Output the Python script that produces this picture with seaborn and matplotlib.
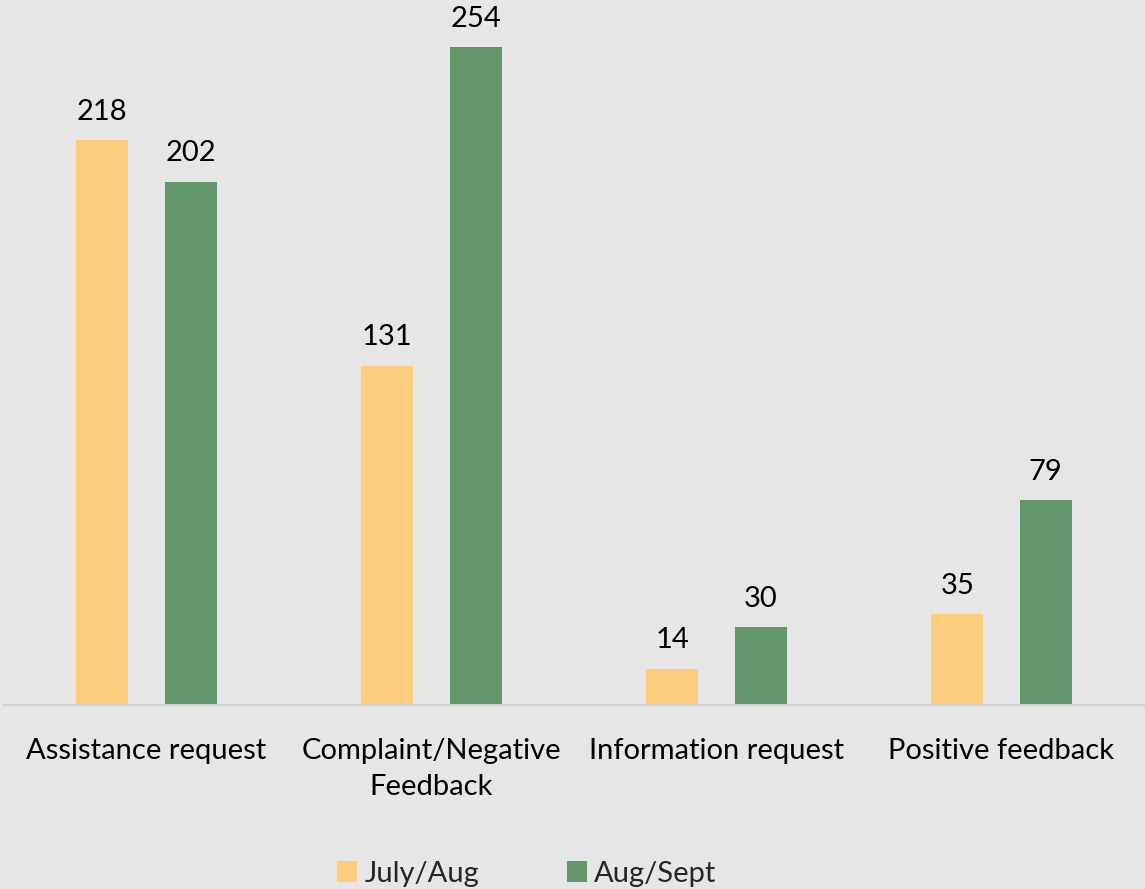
import matplotlib
matplotlib.use("Agg")
import matplotlib.pyplot as plt
import seaborn as sns
import pandas as pd
from matplotlib.patches import Patch

categories = ["Assistance request", "Complaint/Negative\nFeedback",
              "Information request", "Positive feedback"]
periods = ["July/Aug", "Aug/Sept"]
july_aug = [218, 131, 14, 35]
aug_sept = [202, 254, 30, 79]

df = pd.DataFrame({
    "category": categories * 2,
    "period": [periods[0]] * 4 + [periods[1]] * 4,
    "count": july_aug + aug_sept,
})

bg = "#E6E6E6"
palette = {"July/Aug": "#FDCD7E", "Aug/Sept": "#63976B"}

sns.set_theme(style="white")
plt.rcParams["font.family"] = ["Lato", "DejaVu Sans"]

fig = plt.figure(figsize=(11.45, 8.89), dpi=100, facecolor=bg)
ax = fig.add_axes([4 / 1145, 1 - 705 / 889, 1140 / 1145, 695 / 889])
ax.set_facecolor(bg)

sns.barplot(data=df, x="category", y="count", hue="period", order=categories,
            hue_order=periods, palette=palette, width=0.62, gap=0.41,
            saturation=1, linewidth=0, edgecolor="none", ax=ax, legend=False)

ax.set_xlim(-0.5, 3.5)
ax.set_ylim(0, 268.3)
for s in ["top", "right", "left"]:
    ax.spines[s].set_visible(False)
ax.spines["bottom"].set_color("#D0D0D0")
ax.spines["bottom"].set_linewidth(1.5)
ax.set_yticks([])
ax.set_xlabel("")
ax.set_ylabel("")
ax.tick_params(axis="x", length=0, pad=24, labelsize=21, labelcolor="black")
for lbl in ax.get_xticklabels():
    lbl.set_linespacing(1.45)

for cont in ax.containers:
    ax.bar_label(cont, fmt="%d", padding=11, fontsize=21, color="black")

handles = [Patch(facecolor=palette[p], edgecolor="none", label=p) for p in periods]
fig.legend(handles=handles, loc="lower center", bbox_to_anchor=(0.46, -0.027),
           ncol=2, frameon=False, fontsize=21, handlelength=0.7,
           handleheight=0.7, handletextpad=0.25, columnspacing=3.0)

fig.savefig("out.png", dpi=100, facecolor=bg)
